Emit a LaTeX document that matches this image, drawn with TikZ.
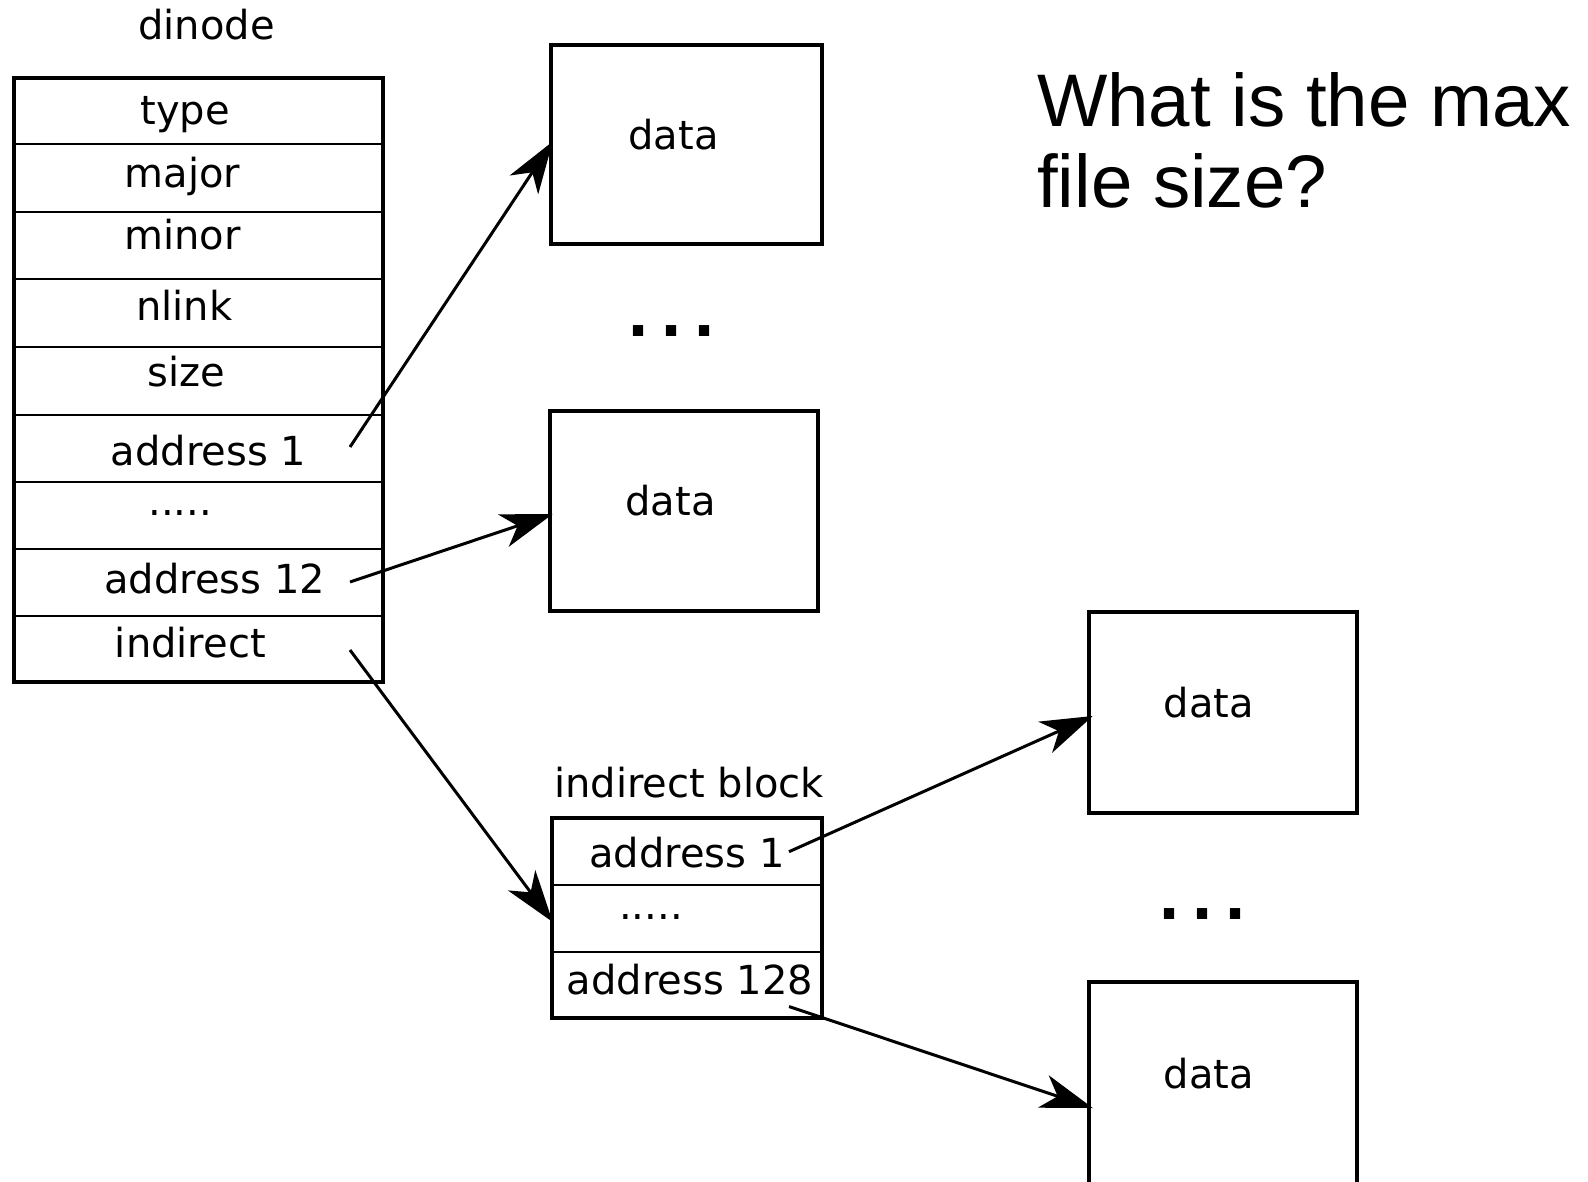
\documentclass[tikz,border=0pt]{standalone}
\usepackage{fontspec}
\setmainfont{DejaVu Sans}
\newfontfamily\qfont{Liberation Sans}
\usetikzlibrary{arrows.meta}
\begin{document}
\begin{tikzpicture}[x=1pt,y=-1pt,
  lbl/.style={anchor=base, inner sep=0pt, font=\fontsize{40}{47}\selectfont},
  qtext/.style={anchor=base west, inner sep=0pt, font=\qfont\fontsize{74.5}{81}\selectfont},
  blk/.style={draw, line width=4.5pt, inner sep=0pt},
  rowline/.style={line width=1.7pt},
  arr/.style={line width=3pt, -{Stealth[length=52pt,width=34pt,inset=15pt]}},
  bigdots/.style={anchor=base, inner sep=0pt, font=\fontsize{58}{60}\selectfont\bfseries}]
\useasboundingbox (0,0) rectangle (1588,1182);

% dinode
\node[lbl] (tDinode) at (206.6,39.5) {dinode};
\node[blk, minimum width=369pt, minimum height=604pt] (dinode) at (198.5,380) {};
\foreach \yy in {144,212,279,347,415,482,549,616}
  \draw[rowline] (14,\yy) -- (383,\yy);
\node[lbl] (tType)  at (185.3,125) {type};
\node[lbl] (tMajor) at (182.3,188) {major};
\node[lbl] (tMinor) at (182.3,250) {minor};
\node[lbl] (tNlink) at (184.3,321) {nlink};
\node[lbl] (tSize)  at (186.4,386) {size};
\node[lbl] (tAddr1) at (208.6,465) {address 1};
\node[lbl] (tDots)  at (180.3,515) {.....};
\node[lbl] (tAddr12) at (214.7,593) {address 12};
\node[lbl] (tInd)   at (190.4,657) {indirect};

% direct data blocks
\node[blk, minimum width=271pt, minimum height=199pt] (D1) at (686.5,144.5) {};
\node[lbl] (tD1) at (673.5,150) {data};
\node[bigdots] (dots1) at (671.5,337) {.\hspace{11pt}.\hspace{11pt}.};
\node[blk, minimum width=268pt, minimum height=200pt] (D2) at (684,511) {};
\node[lbl] (tD2) at (670.5,515.5) {data};

% indirect block
\node[lbl] (tIB) at (689,797) {indirect block};
\node[blk, minimum width=270pt, minimum height=200pt] (IB) at (687,918) {};
\draw[rowline] (552,885) -- (822,885);
\draw[rowline] (552,952) -- (822,952);
\node[lbl] (tIB1) at (687,867) {address 1};
\node[lbl] (tIBd) at (651,919) {.....};
\node[lbl] (tIB128) at (690,994) {address 128};

% indirect data blocks
\node[blk, minimum width=268pt, minimum height=201pt] (D3) at (1223,712.5) {};
\node[lbl] (tD3) at (1209,717) {data};
\node[bigdots] (dots2) at (1202.5,919) {.\hspace{11pt}.\hspace{11pt}.};
\node[blk, minimum width=268pt, minimum height=204pt] (D4) at (1223,1084) {};
\node[lbl] (tD4) at (1209,1088) {data};

% question
\node[qtext] (q1) at (1037,127) {What is the max};
\node[qtext] (q2) at (1037,208) {file size?};

% connectors
\coordinate (s1) at (350,447);
\coordinate (s2) at (350,582);
\coordinate (s3) at (350,650);
\coordinate (s4) at (789,851.7);
\coordinate (s5) at (789,1006.5);
\draw[arr] (s1) -- ([xshift=4pt,yshift=3pt]D1.west);
\draw[arr] (s2) -- ([xshift=5pt,yshift=-3pt]D2.west);
\draw[arr] (s3) -- ([xshift=3pt,yshift=-4pt]IB.west);
\draw[arr] (s4) -- ([xshift=6pt,yshift=-3.5pt]D3.west);
\draw[arr] (s5) -- ([xshift=6pt,yshift=-24pt]D4.west);
\end{tikzpicture}
\end{document}
